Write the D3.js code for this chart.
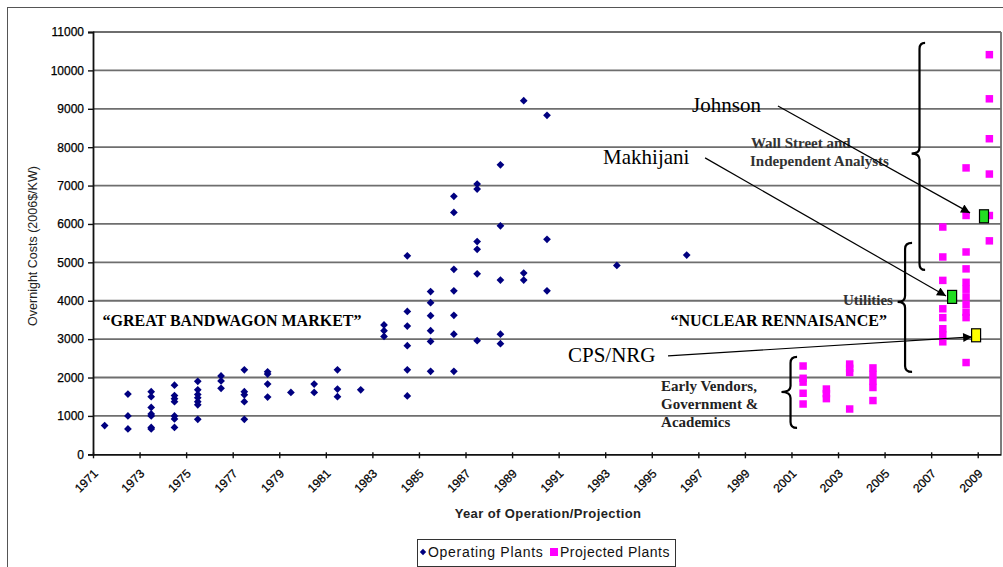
<!DOCTYPE html>
<html><head><meta charset="utf-8">
<script src="https://cdn.jsdelivr.net/npm/d3@7"></script>
<style>body{margin:0;background:#fff}svg{display:block}</style>
</head><body><svg id="c" width="1003" height="567"></svg>
<script>
// ---------------- DATA ----------------
const yearCategories = [1971,1972,1973,1974,1975,1976,1977,1978,1979,1980,1981,1982,1983,1984,1985,1986,1987,1988,1989,1990,
  1991,1992,1993,1994,1995,1996,1997,1998,1999,2000,2001,2002,2003,2004,2005,2006,2007,2008,2009];
const xTickLabels = ['1971','1973','1975','1977','1979','1981','1983','1985','1987','1989','1991','1993','1995','1997','1999','2001','2003','2005','2007','2009'];
const yTickValues = [0,1000,2000,3000,4000,5000,6000,7000,8000,9000,10000,11000];

// Operating plants: [year, overnight cost 2006$/kW]
const operatingPlants = [
  [1971,750],
  [1972,1570],[1972,1000],[1972,660],
  [1973,1630],[1973,1500],[1973,1220],[1973,1050],[1973,1000],[1973,700],[1973,660],
  [1974,1800],[1974,1530],[1974,1450],[1974,1370],[1974,1000],[1974,920],[1974,700],
  [1975,1900],[1975,1680],[1975,1560],[1975,1470],[1975,1370],[1975,1290],[1975,910],
  [1976,2040],[1976,1910],[1976,1720],
  [1977,2200],[1977,1630],[1977,1550],[1977,1370],[1977,910],
  [1978,2150],[1978,2090],[1978,1830],[1978,1490],
  [1979,1610],
  [1980,1830],[1980,1610],
  [1981,2200],[1981,1700],[1981,1500],
  [1982,1680],
  [1983,3370],[1983,3220],[1983,3070],
  [1984,5170],[1984,3720],[1984,3340],[1984,2830],[1984,2200],[1984,1520],
  [1985,4240],[1985,3950],[1985,3610],[1985,3220],[1985,2940],[1985,2160],
  [1986,6720],[1986,6300],[1986,4820],[1986,4260],[1986,3620],[1986,3130],[1986,2160],
  [1987,7040],[1987,6910],[1987,5540],[1987,5340],[1987,4700],[1987,2960],
  [1988,7540],[1988,5950],[1988,4540],[1988,3130],[1988,2880],
  [1989,9210],[1989,4720],[1989,4540],
  [1990,8830],[1990,5600],[1990,4260],
  [1993,4920],
  [1996,5190]
];

// Projected plants: [year, overnight cost]
const projectedPlants = [
  [2001,2300],[2001,1980],[2001,1880],[2001,1590],[2001,1310],
  [2002,1700],[2002,1580],[2002,1450],
  [2003,2350],[2003,2240],[2003,2130],[2003,1180],
  [2004,2250],[2004,2080],[2004,1910],[2004,1740],[2004,1400],
  [2007,5920],[2007,5140],[2007,4530],[2007,3790],[2007,3560],[2007,3270],[2007,3110],[2007,2930],
  [2008,7460],[2008,6220],[2008,5270],[2008,4830],[2008,4480],[2008,4300],[2008,4100],[2008,3900],[2008,3700],[2008,3560],[2008,2390],
  [2009,10410],[2009,9260],[2009,8220],[2009,7300],[2009,6220],[2009,5560]
];

// Highlighted estimates (year position, cost, colour)
const estimateNames = ['Johnson','Makhijani','CPS/NRG'];
const estimateYears = [2008.77, 2007.4, 2008.43];
const estimateCosts = [6200, 4100, 3100];
const estimateColors = ['#22dd22','#22dd22','#ffff00'];

const legendLabels = ['Operating Plants','Projected Plants'];

// ---------------- LAYOUT ----------------
const svg = d3.select('#c');
const L = 93, R = 1001, T = 32, B = 454.3;
const x = d3.scaleLinear().domain([1970.5, 2009.5]).range([L, R]);
const y = d3.scaleLinear().domain([0, 11000]).range([B, T]);
const sans = 'Arial, Liberation Sans, sans-serif';

// outer frame
svg.append('rect').attr('x',7.5).attr('y',7.5).attr('width',1100).attr('height',600)
  .attr('fill','none').attr('stroke','#555').attr('stroke-width',1);

// gridlines
svg.append('g').selectAll('line').data(yTickValues.filter(v=>v>0)).join('line')
  .attr('x1',L).attr('x2',R).attr('y1',d=>y(d)).attr('y2',d=>y(d))
  .attr('stroke','#6e6e6e').attr('stroke-width',1.8);
svg.append('line').attr('x1',R).attr('x2',R).attr('y1',T).attr('y2',B)
  .attr('stroke','#6e6e6e').attr('stroke-width',1.8);

// y axis
const yAxis = d3.axisLeft(y).tickValues(yTickValues).tickSize(5).tickPadding(4).tickFormat(d3.format('d'));
const gy = svg.append('g').attr('transform',`translate(${L},0)`).call(yAxis);
gy.select('.domain').attr('stroke','#111').attr('stroke-width',1.8);
gy.selectAll('.tick line').attr('stroke','#111').attr('stroke-width',1.4);
gy.selectAll('text').attr('font-family',sans).attr('font-size',12).attr('fill','#000')
  .attr('stroke','#000').attr('stroke-width',0.25);

// x axis
const xTickPos = d3.range(0, 20).map(i => 1970.5 + 2*i);
const xAxis = d3.axisBottom(x).tickValues(xTickPos).tickSize(4).tickSizeOuter(0).tickFormat('');
const gx = svg.append('g').attr('transform',`translate(0,${B})`).call(xAxis);
gx.select('.domain').attr('stroke','#111').attr('stroke-width',1.8);
gx.selectAll('.tick line').attr('stroke','#111').attr('stroke-width',1.4).attr('y1',-2);

svg.append('g').selectAll('text').data(xTickLabels).join('text')
  .attr('transform', d => `translate(${x(+d)-6},${B+20}) rotate(-45)`)
  .attr('text-anchor','end').attr('font-family',sans)
  .attr('font-size',12).attr('fill','#000').attr('stroke','#000').attr('stroke-width',0.25).text(d=>d);

// axis titles
svg.append('text').attr('x',548).attr('y',518).attr('text-anchor','middle')
  .attr('font-family',sans).attr('font-size',13).attr('font-weight','bold').attr('letter-spacing',0.4)
  .attr('fill','#222').text('Year of Operation/Projection');
svg.append('text').attr('transform','translate(37,246) rotate(-90)').attr('text-anchor','middle')
  .attr('font-family',sans).attr('font-size',12.5)
  .attr('fill','#222').text('Overnight Costs (2006$/KW)');

// annotation helpers (data coordinates)
const serif = 'Liberation Serif, Times New Roman, serif';
function label(txt, yr, val, opt={}) {
  svg.append('text').attr('x',x(yr)).attr('y',y(val))
    .attr('font-family',serif).attr('font-size',opt.size||15)
    .attr('font-weight',opt.bold?'bold':'normal')
    .attr('text-anchor',opt.anchor||'start').attr('fill',opt.fill||'#000').text(txt);
}
label('\u201CGREAT BANDWAGON MARKET\u201D', 1976.47, 3342, {size:16,bold:true,anchor:'middle'});
label('\u201CNUCLEAR RENNAISANCE\u201D', 1999.95, 3342, {size:16,bold:true,anchor:'middle'});
label('Wall Street and', 1998.76, 7979, {size:15,bold:true,fill:'#333'});
label('Independent Analysts', 1998.72, 7510, {size:15,bold:true,fill:'#333'});
label('Utilities', 2004.86, 3891, {size:15,bold:true,anchor:'end',fill:'#333'});
label('Early Vendors,', 1994.9, 1649, {size:15,bold:true,fill:'#222'});
label('Government &', 1994.9, 1180, {size:15,bold:true,fill:'#222'});
label('Academics', 1994.9, 711, {size:15,bold:true,fill:'#222'});

// braces
function brace(xEnd, xStem, xTip, vTop, vTip, vBot) {
  const e = x(xEnd), s = x(xStem), t = x(xTip), a = y(vTop), m = y(vTip), b = y(vBot);
  const r = 6;
  const p = `M${e},${a} Q${s},${a} ${s},${a+r} L${s},${m-r} Q${s},${m} ${t},${m} Q${s},${m} ${s},${m+r} L${s},${b-r} Q${s},${b} ${e},${b}`;
  svg.append('path').attr('d',p).attr('fill','none').attr('stroke','#000').attr('stroke-width',2.2);
}
brace(2006.24, 2006.0, 2005.66, 10716, 7834, 4803);
brace(2005.68, 2005.38, 2005.06, 5506, 3970, 2146);
brace(2000.74, 2000.46, 2000.07, 2536, 1623, 686);

// points
const diamond = d3.symbol().type(d3.symbolSquare).size(30)();
svg.append('g').selectAll('path').data(operatingPlants).join('path')
  .attr('d',diamond).attr('transform',d=>`translate(${x(d[0])},${y(d[1])}) rotate(45)`)
  .attr('fill','#000080');
const sq = d3.symbol().type(d3.symbolSquare).size(56)();
svg.append('g').selectAll('path').data(projectedPlants).join('path')
  .attr('d',sq).attr('transform',d=>`translate(${x(d[0])},${y(d[1])})`)
  .attr('fill','#ff00ff');

// arrows
svg.append('defs').append('marker').attr('id','ah').attr('viewBox','0 0 10 10')
  .attr('refX',10).attr('refY',5).attr('markerWidth',12).attr('markerHeight',9)
  .attr('markerUnits','userSpaceOnUse').attr('orient','auto')
  .append('path').attr('d','M0,0 L10,5 L0,10 Z').attr('fill','#000');
const arrowStarts = [[1999.92, 9075],[1996.79, 7721],[1995.2, 2564]];
const arrowTips = [[2008.17, 6288],[2007.14, 4126],[2008.26, 3058]];
arrowStarts.forEach((s,i)=>{
  svg.append('line').attr('x1',x(s[0])).attr('y1',y(s[1]))
    .attr('x2',x(arrowTips[i][0])).attr('y2',y(arrowTips[i][1]))
    .attr('stroke','#000').attr('stroke-width',1.2).attr('marker-end','url(#ah)');
});

// estimate boxes
svg.append('g').selectAll('rect').data(estimateNames).join('rect')
  .attr('x',(d,i)=>x(estimateYears[i])-4.5).attr('y',(d,i)=>y(estimateCosts[i])-6.5)
  .attr('width',9).attr('height',13).attr('fill',(d,i)=>estimateColors[i])
  .attr('stroke','#000').attr('stroke-width',1.2);

// estimate labels
label('Johnson', 1996.23, 8916, {size:21});
label('Makhijani', 1992.41, 7562, {size:21});
label('CPS/NRG', 1990.9, 2404, {size:21});

// legend
const lg = svg.append('g');
lg.append('rect').attr('x',417.5).attr('y',539.5).attr('width',258).attr('height',27)
  .attr('fill','#fff').attr('stroke','#333').attr('stroke-width',1);
lg.append('path').attr('d',d3.symbol().type(d3.symbolSquare).size(20)())
  .attr('transform','translate(423,552) rotate(45)').attr('fill','#000080');
lg.append('text').attr('x',428).attr('y',557).attr('font-family',sans).attr('letter-spacing',0.7)
  .attr('font-size',14).attr('fill','#111').text(legendLabels[0]);
lg.append('rect').attr('x',550).attr('y',548).attr('width',8).attr('height',8).attr('fill','#ff00ff');
lg.append('text').attr('x',560).attr('y',557).attr('font-family',sans).attr('letter-spacing',0.5)
  .attr('font-size',14).attr('fill','#111').text(legendLabels[1]);
</script></body></html>
